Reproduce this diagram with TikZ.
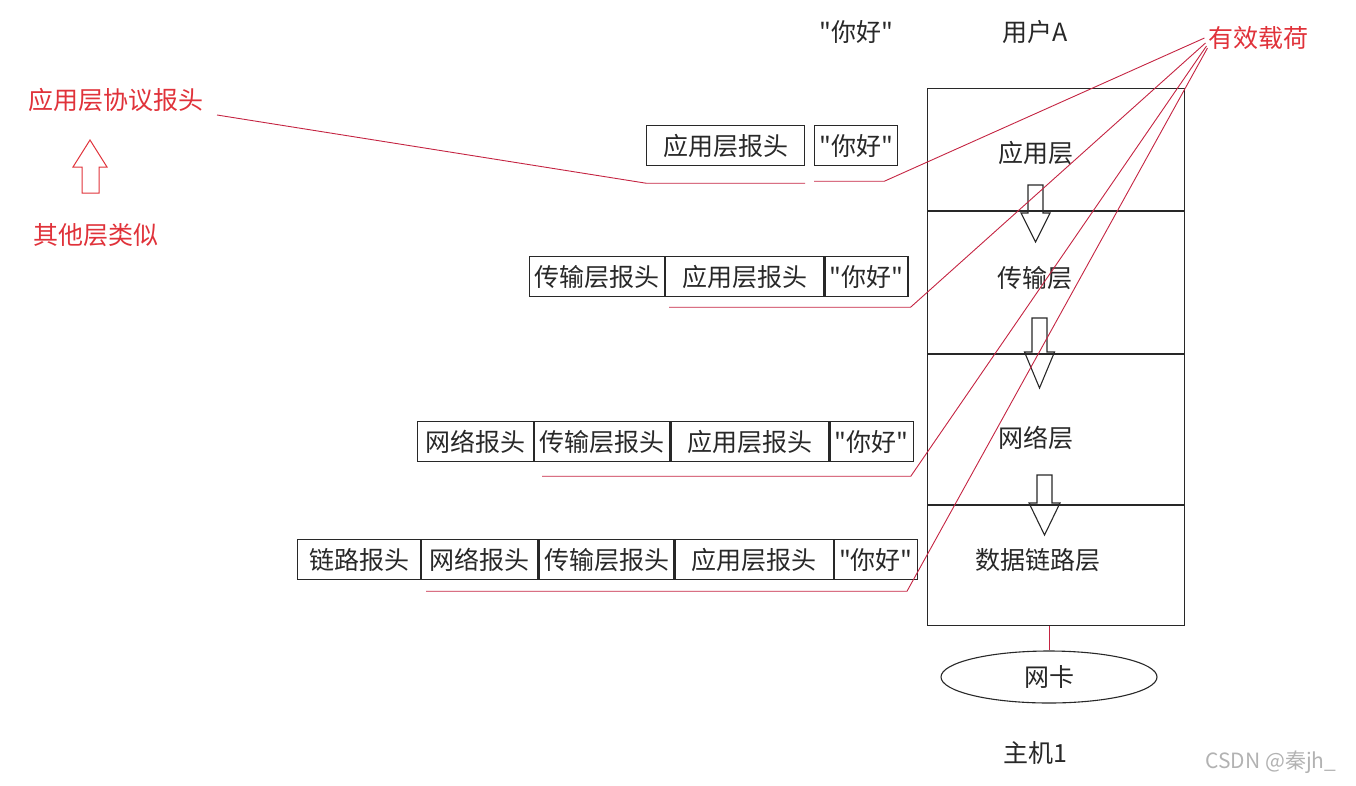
\documentclass[tikz,border=0pt]{standalone}
\usepackage{fontspec}
\setmainfont{Noto Sans CJK SC}[Ligatures=TeXOff]
\usepackage{tikz}
\usetikzlibrary{positioning, shapes.geometric}

\definecolor{notered}{RGB}{224,50,58}
\definecolor{linered}{RGB}{196,36,66}
\definecolor{ink}{RGB}{40,40,40}

\tikzstyle{cjk} = [font=\fontsize{25}{30}\selectfont, text=ink]
\tikzstyle{layerbox} = [rectangle, draw=ink, line width=1pt, cjk,
  minimum width=257pt, inner sep=0pt]
\tikzstyle{hdr} = [rectangle, draw=ink, line width=1.2pt, cjk,
  minimum height=40pt, inner sep=0pt]
\tikzstyle{apphdr} = [hdr, minimum width=158pt]
\tikzstyle{tphdr} = [hdr, minimum width=135pt]
\tikzstyle{nethdr} = [hdr, minimum width=116pt]
\tikzstyle{linkhdr} = [hdr, minimum width=123pt]
\tikzstyle{datahdr} = [hdr, minimum width=83pt]
\tikzstyle{redtext} = [font=\fontsize{25}{30}\selectfont, text=notered]
\tikzstyle{redline} = [draw=linered, line width=0.9pt]
\tikzstyle{hollow} = [draw=ink, line width=1.1pt]

\tikzset{
  pics/hollowdown/.style n args={4}{code={
    \draw[hollow] (-#1,0) -- (#1,0) -- (#1,#2) -- (#4,#2) -- (0,#3)
      -- (-#4,#2) -- (-#1,#2) -- cycle;
  }}
}

\begin{document}
\begin{tikzpicture}[x=1pt, y=-1pt]
  \useasboundingbox (0,0) rectangle (1356,785);

  % protocol stack of host 1
  \node[layerbox, minimum height=122pt, anchor=north west,
    label={[cjk, xshift=-20pt, yshift=-4pt]center:应用层}] (lapp) at (927,88) {};
  \node[layerbox, minimum height=142pt, below=0pt of lapp,
    label={[cjk, xshift=-21pt, yshift=4pt]center:传输层}] (ltp) {};
  \node[layerbox, minimum height=150pt, below=0pt of ltp,
    label={[cjk, xshift=-20pt, yshift=-8pt]center:网络层}] (lnet) {};
  \node[layerbox, minimum height=120pt, below=0pt of lnet,
    label={[cjk, xshift=-18pt, yshift=5pt]center:数据链路层}] (llink) {};

  \pic at (1035.5,185) {hollowdown={7.5}{28}{57}{14.5}};
  \pic at (1039.5,318) {hollowdown={7.5}{34}{70}{15}};
  \pic at (1044.5,475) {hollowdown={7.5}{28}{60}{15.5}};

  \node[ellipse, draw=ink, line width=1.1pt, cjk, minimum width=216pt,
    minimum height=52pt, inner sep=0pt] (nic) at (1049,677) {网卡};
  \draw[redline] (llink.south -| nic.north) -- (nic.north);

  \node[cjk] (hello) at (856,32) {"你好"};
  \node[cjk] (user) at (1035,32) {用户A};
  \node[cjk] (host) at (1035,753) {主机1};
  \node[font=\fontsize{21}{25}\selectfont, text=black!30] (mark) at (1271,762) {CSDN @秦jh\_};

  % packets
  \node[apphdr, anchor=north west] (r1app) at (646,125) {应用层报头};
  \node[datahdr, right=9pt of r1app] (r1data) {"你好"};

  \node[tphdr, anchor=north west] (r2tp) at (529,256) {传输层报头};
  \node[apphdr, right=0pt of r2tp] (r2app) {应用层报头};
  \node[datahdr, right=0pt of r2app] (r2data) {"你好"};

  \node[nethdr, anchor=north west] (r3net) at (417,421) {网络报头};
  \node[tphdr, right=0pt of r3net] (r3tp) {传输层报头};
  \node[apphdr, right=0pt of r3tp] (r3app) {应用层报头};
  \node[datahdr, right=0pt of r3app] (r3data) {"你好"};

  \node[linkhdr, anchor=north west] (r4link) at (297,539) {链路报头};
  \node[nethdr, right=0pt of r4link] (r4net) {网络报头};
  \node[tphdr, right=0pt of r4net] (r4tp) {传输层报头};
  \node[apphdr, right=0pt of r4tp] (r4app) {应用层报头};
  \node[datahdr, right=0pt of r4app] (r4data) {"你好"};

  % notes
  \node[redtext] (proto) at (116,100) {应用层协议报头};
  \node[redtext] (others) at (96,235) {其他层类似};
  \node[redtext] (payload) at (1258,38) {有效载荷};
  \draw[draw=notered, line width=1pt] (82,193) -- (99,193) -- (99,167) -- (107,167)
    -- (90,140) -- (73,167) -- (82,167) -- cycle;

  \draw[redline] ([xshift=10pt, yshift=-15pt]proto.east)
    -- ([yshift=-17pt]r1app.south west) -- ([yshift=-17pt]r1app.south east);
  \draw[redline] (payload.west)
    -- ([xshift=-14pt, yshift=-15pt]r1data.south east) -- ([yshift=-15pt]r1data.south west);
  \draw[redline] ([xshift=1pt, yshift=-5pt]payload.west)
    -- ([xshift=2pt, yshift=-10pt]r2data.south east) -- ([xshift=4pt, yshift=-10pt]r2app.south west);
  \draw[redline] ([xshift=2pt, yshift=-8pt]payload.west)
    -- ([xshift=-3pt, yshift=-14pt]r3data.south east) -- ([xshift=8pt, yshift=-14pt]r3tp.south west);
  \draw[redline] ([xshift=3pt, yshift=-10pt]payload.west)
    -- ([xshift=-11pt, yshift=-11pt]r4data.south east) -- ([xshift=5pt, yshift=-11pt]r4net.south west);
\end{tikzpicture}
\end{document}
